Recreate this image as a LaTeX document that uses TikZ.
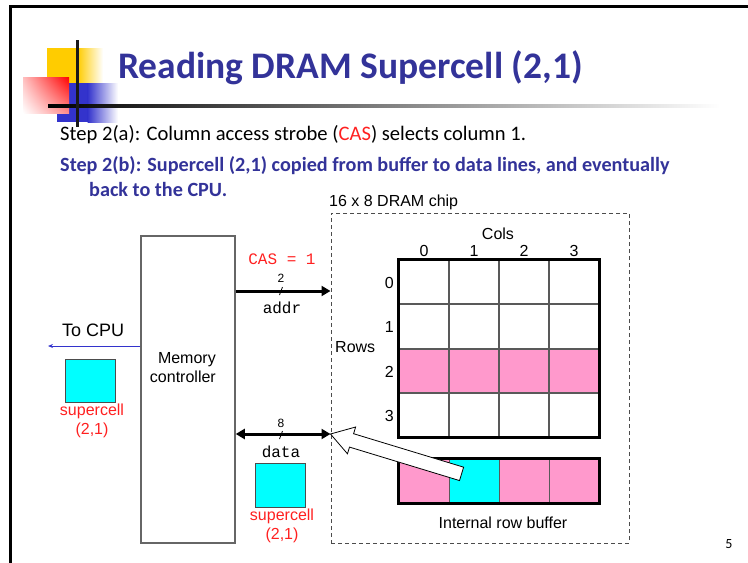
\documentclass[tikz,border=0pt]{standalone}
\usepackage{fontspec}
\setmainfont{Carlito}
\newfontfamily\arialf{Liberation Sans}
\newfontfamily\courf{Liberation Mono}
\usetikzlibrary{arrows.meta,calc,shadings}
\definecolor{slideblue}{HTML}{333399}
\definecolor{cellpink}{HTML}{FF99CC}
\definecolor{cellcyan}{HTML}{00FFFF}
\definecolor{logoyellow}{HTML}{FFCC00}
\definecolor{logoblue}{HTML}{3333CC}
\definecolor{redtext}{HTML}{FF2020}
\begin{document}
\begin{tikzpicture}[x=1pt,y=-1pt,
  sans/.style={font=\arialf\fontsize{16}{19}\selectfont, inner sep=0pt},
  mono/.style={font=\courf\fontsize{16}{18}\selectfont, inner sep=0pt},
  small/.style={font=\arialf\fontsize{12}{14}\selectfont, inner sep=0pt},
  slidetext/.style={font=\fontsize{20.6}{24}\selectfont, inner sep=0pt, anchor=base west},
  slidebold/.style={slidetext, text=slideblue, font=\bfseries\fontsize{20.2}{24}\selectfont},
  cell/.style={draw=black!65, line width=1pt, minimum width=50pt, inner sep=0pt},
  gridcell/.style={cell, minimum height=44.25pt},
  bufcell/.style={cell, minimum height=44pt},
  frame/.style={line width=3pt},
  bus/.style={line width=3pt},
  tick/.style={line width=0.8pt},
  chipbox/.style={draw=black!70, line width=1pt, dash pattern=on 4pt off 3pt},
  swatch/.style={fill=cellcyan, draw=black!70, line width=1pt, minimum width=50pt, minimum height=44pt, inner sep=0pt},
  redlbl/.style={sans, text=redtext, align=center}
]
\useasboundingbox (0,0) rectangle (748,563);

% slide border
\draw[line width=3pt] (10,563) -- (10,6) -- (748,6);

% logo
\fill[logoyellow] (47,48) rectangle (78,83);
\shade[left color=logoyellow, right color=white] (77.5,48) rectangle (103,83);
\fill[logoblue] (57,83) rectangle (88,122);
\shade[left color=logoblue, right color=white] (87.5,83) rectangle (118,122);
\shade[upper right=red, upper left=red!25!white, lower right=red!45!white, lower left=white] (23,77) rectangle (69,113);
\shade[left color=black, middle color=black!40, right color=white] (48,104.5) rectangle (720,107.5);
\draw[line width=3pt, black!90] (77,40) -- (77,127);

% title and steps
\node[anchor=base west, inner sep=0pt, text=slideblue, font=\bfseries\fontsize{37.5}{42}\selectfont] (title) at (118,78) {Reading DRAM Supercell (2,1)};
\node[slidetext] (s2a) at (60,140) {Step 2(a): Column access strobe (\textcolor{redtext}{CAS}) selects column 1.};
\node[slidebold] (s2b) at (60,171) {Step 2(b): Supercell (2,1) copied from buffer to data lines, and eventually};
\node[slidebold] (s2c) at (89,196) {back to the CPU.};

% DRAM chip
\node[chipbox, minimum width=298pt, minimum height=330pt, inner sep=0pt] (chip) at (480,378) {};
\node[sans, anchor=base west] (chiplbl) at (329,206) {16 x 8 DRAM chip};

\foreach \r in {0,...,3}{
  \foreach \c in {0,...,3}{
    \node[gridcell] (g\r\c) at ({424+50*\c},{282.125+44.25*\r}) {};
  }
}
\foreach \c in {0,...,3}{
  \fill[cellpink] (g2\c.north west) rectangle (g2\c.south east);
}
\foreach \r in {0,...,3}{
  \foreach \c in {0,...,3}{
    \draw[black!65, line width=1pt] (g\r\c.north west) rectangle (g\r\c.south east);
  }
}
\draw[frame] (g00.north west) rectangle (g33.south east);

\node[sans, anchor=base] (colsl) at (498,239) {Cols};
\foreach \c in {0,...,3}{
  \node[sans, anchor=base] (cn\c) at ($(g0\c.center)+(0,-26)$) {\c};
}
\foreach \r in {0,...,3}{
  \node[sans, anchor=east] (rn\r) at ($(g\r0.center)+(-30,1)$) {\r};
}
\node[sans, anchor=base west] (rowsl) at (335,352) {Rows};

% internal row buffer
\node[bufcell, fill=cellpink] (b0) at (424,481) {};
\node[bufcell, fill=cellcyan] (b1) at (474,481) {};
\node[bufcell, fill=cellpink] (b2) at (524,481) {};
\node[bufcell, fill=cellpink] (b3) at (574,481) {};
\draw[frame] (b0.north west) rectangle (b3.south east);
\node[sans, anchor=base] (buflbl) at (503,528) {Internal row buffer};

% memory controller
\node[draw=black!60, line width=1.5pt, minimum width=94pt, minimum height=307pt, inner sep=0pt] (mc) at (188,389.5) {};
\node[sans, align=right, anchor=base east] (mclbl) at (216,382) {Memory\\controller};

% address bus
\coordinate (addrL) at (mc.east |- 0,291);
\coordinate (addrR) at (chip.west |- 0,291);
\draw[bus, -{Triangle[length=9pt,width=10pt]}] (addrL) -- (addrR);
\node[mono, anchor=base, text=redtext] (cas) at (282,264) {CAS = 1};
\node[small, anchor=base] (w2) at (281,282) {2};
\draw[tick] (279.5,295) -- (282.5,287);
\node[mono, anchor=base] (addr) at (282,313) {addr};

% data bus
\coordinate (dataL) at (mc.east |- 0,434);
\coordinate (dataR) at (chip.west |- 0,434);
\draw[bus, {Triangle[length=9pt,width=10pt]}-{Triangle[length=9pt,width=10pt]}] (dataL) -- (dataR);
\node[small, anchor=base] (w8) at (281,427) {8};
\draw[tick] (279.5,439) -- (282.5,431);
\node[mono, anchor=base] (data) at (281,457) {data};

% supercell on the data lines
\node[swatch] (sc2) at (280,485) {};
\node[redlbl, anchor=base] (sc2lbl) at (282,539) {supercell\\(2,1)};

% to CPU
\coordinate (cpuL) at (48,346);
\draw[logoblue, line width=1pt, -{Stealth[length=5pt,width=4pt]}] (mc.west |- cpuL) -- (cpuL);
\node[font=\arialf\fontsize{18}{20}\selectfont, inner sep=0pt, anchor=base west] (tocpu) at (62,336) {To CPU};
\node[swatch, minimum height=43pt] (sc1) at (90,380.5) {};
\node[redlbl, anchor=base] (sc1lbl) at (92,434) {supercell\\(2,1)};

% copy from buffer to data lines
\coordinate (ctip) at (dataR);
\coordinate (ctail) at ($(b1.center)+(-12,-7)$);
\coordinate (chead) at ($(ctip)!22pt!(ctail)$);
\coordinate (cend) at ($(ctip)!137pt!(ctail)$);
\draw[fill=white, line width=0.8pt, line join=miter]
  (ctip)
  -- ($(chead)!14pt!90:(ctail)$)
  -- ($(chead)!7pt!90:(ctail)$)
  -- ($(cend)!7pt!-90:(chead)$)
  -- ($(cend)!7pt!90:(chead)$)
  -- ($(chead)!7pt!-90:(ctail)$)
  -- ($(chead)!14pt!-90:(ctail)$)
  -- cycle;

% page number
\node[inner sep=0pt, anchor=base, font=\fontsize{14}{16}\selectfont] (pnum) at (729,548) {5};
\end{tikzpicture}
\end{document}
